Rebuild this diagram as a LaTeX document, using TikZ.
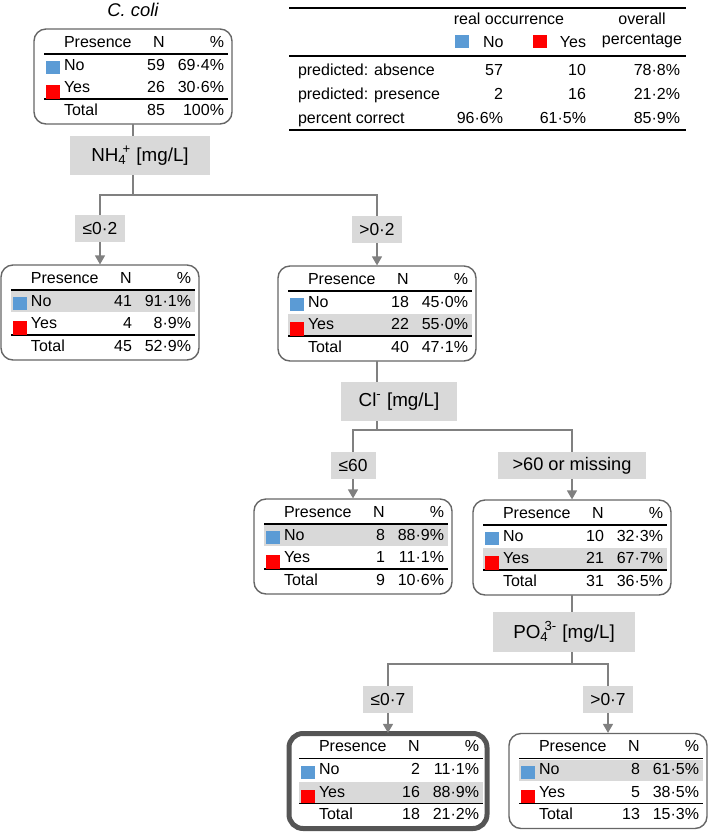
\documentclass[tikz,border=0pt]{standalone}
\usepackage{fontspec}
\setmainfont{Liberation Sans}
\usetikzlibrary{arrows.meta}
\definecolor{cno}{HTML}{5B9BD5}
\definecolor{cyes}{HTML}{FF0000}
\definecolor{lblgray}{HTML}{D9D9D9}
\definecolor{conngray}{HTML}{808080}
\definecolor{boxgray}{HTML}{666666}
\definecolor{thickgray}{HTML}{555555}
\newcommand\ionss[2]{\rlap{\textsubscript{#1}}\hspace{0.22em}\textsuperscript{#2}}
\tikzset{
  tbox/.style={draw=boxgray, line width=0.7pt, rounded corners=6pt, minimum width=99pt, minimum height=47.5pt, inner sep=0pt, outer sep=0pt},
  tboxthick/.style={tbox, draw=thickgray, line width=2.5pt, rounded corners=7pt},
  lbl/.style={fill=lblgray, inner sep=0pt, outer sep=0pt, font=\fontsize{8.7}{10}\selectfont},
  biglbl/.style={lbl, font=\fontsize{9.4}{11}\selectfont},
  conn/.style={draw=conngray, line width=0.7pt},
  arr/.style={conn, -{Triangle[width=5pt,length=4.5pt]}, shorten >=0.3pt},
  tline/.style={line width=0.8pt},
  tt/.style={inner sep=0pt, outer sep=0pt, font=\fontsize{8}{9.6}\selectfont},
}
\newcommand\ptab[8]{%
 \begin{scope}[shift={(#1.north west)}]
  \ifcase#2\or \fill[lblgray] (10,26) rectangle (194,47);\or \fill[lblgray] (10,48) rectangle (194,69.5);\fi
  \draw[tline] (10,25) -- (194,25);
  \draw[tline] (10,70) -- (194,70);
  \fill[cno] (12,32) rectangle (26,45);
  \fill[cyes] (12,56) rectangle (26,69.6);
  \node[tt,anchor=base west] (#1-hp) at (30,18) {Presence};
  \node[tt,anchor=base] (#1-hn) at (125,18) {N};
  \node[tt,anchor=base east] (#1-hq) at (190,18) {\%};
  \node[tt,anchor=base west] (#1-no) at (30,41) {No};
  \node[tt,anchor=base east] (#1-non) at (131,41) {#3};
  \node[tt,anchor=base east] (#1-nop) at (190,41) {#4};
  \node[tt,anchor=base west] (#1-yes) at (30,63.5) {Yes};
  \node[tt,anchor=base east] (#1-yesn) at (131,63.5) {#5};
  \node[tt,anchor=base east] (#1-yesp) at (190,63.5) {#6};
  \node[tt,anchor=base west] (#1-tot) at (30,86) {Total};
  \node[tt,anchor=base east] (#1-totn) at (131,86) {#7};
  \node[tt,anchor=base east] (#1-totp) at (190,86) {#8};
 \end{scope}}
\begin{document}
\begin{tikzpicture}[x=0.5pt,y=-0.5pt]
\useasboundingbox (0,0) rectangle (709,832);
% title
\node[inner sep=0pt, anchor=base, font=\fontsize{9.2}{11}\selectfont\itshape] (title) at (133,16.5) {C. coli};
% tree tables
\node[tbox] (root) at (133,76.5) {};
\node[tbox] (L1) at (100,312.5) {};
\node[tbox] (R1) at (377,313.5) {};
\node[tbox] (L2) at (353,546.5) {};
\node[tbox] (R2) at (572,547.5) {};
\node[tboxthick] (L3) at (388,781) {};
\node[tbox] (R3) at (608,781) {};
\ptab{root}{0}{59}{69·4\%}{26}{30·6\%}{85}{100\%}
\ptab{L1}{1}{41}{91·1\%}{4}{8·9\%}{45}{52·9\%}
\ptab{R1}{2}{18}{45·0\%}{22}{55·0\%}{40}{47·1\%}
\ptab{L2}{1}{8}{88·9\%}{1}{11·1\%}{9}{10·6\%}
\ptab{R2}{2}{10}{32·3\%}{21}{67·7\%}{31}{36·5\%}
\ptab{L3}{2}{2}{11·1\%}{16}{88·9\%}{18}{21·2\%}
\ptab{R3}{1}{8}{61·5\%}{5}{38·5\%}{13}{15·3\%}
% junctions
\coordinate (j1) at (133,195);
\coordinate (j2) at (377,430);
\coordinate (j3) at (572,664);
\draw[conn] (root.south) -- (j1);
\draw[conn] (R1.south) -- (j2);
\draw[conn] (R2.south) -- (j3);
% split labels
\node[biglbl, minimum width=70pt, minimum height=19.5pt] (nh4) at (140,155.5) {NH\ionss{4}{+} [mg/L]};
\node[biglbl, minimum width=58pt, minimum height=19.5pt] (cl) at (399,401.5) {Cl\textsuperscript{-} [mg/L]};
\node[biglbl, minimum width=71pt, minimum height=20pt] (po4) at (564,632) {PO\ionss{4}{3-} [mg/L]};
% branch labels
\node[lbl, minimum width=25pt, minimum height=13.5pt] (le02) at (100,228.5) {≤0·2};
\node[lbl, minimum width=25pt, minimum height=13.5pt] (gt02) at (377,229.5) {>0·2};
\node[lbl, minimum width=22.5pt, minimum height=13.5pt] (le60) at (353,465.5) {≤60};
\node[lbl, minimum width=74pt, minimum height=13.5pt, font=\fontsize{9.1}{10}\selectfont] (gt60) at (572,465.5) {>60 or missing};
\node[lbl, minimum width=25pt, minimum height=13.5pt] (le07) at (388,699.5) {≤0·7};
\node[lbl, minimum width=25pt, minimum height=13.5pt] (gt07) at (608,699.5) {>0·7};
% branches
\draw[conn] (j1) -| (le02.north);
\draw[conn] (j1) -| (gt02.north);
\draw[conn] (j2) -| (le60.north);
\draw[conn] (j2) -| (gt60.north);
\draw[conn] (j3) -| (le07.north);
\draw[conn] (j3) -| (gt07.north);
\draw[arr] (le02.south) -- (L1.north);
\draw[arr] (gt02.south) -- (R1.north);
\draw[arr] (le60.south) -- (L2.north);
\draw[arr] (gt60.south) -- (R2.north);
\draw[arr] (le07.south) -- (L3.north);
\draw[arr] (gt07.south) -- (R3.north);
% classification table
\draw[line width=1pt] (289,8) -- (686,8);
\draw[line width=1pt] (289,56) -- (686,56);
\draw[line width=1pt] (289,130) -- (686,130);
\node[tt,anchor=base] (t-ro) at (509,24) {real occurrence};
\node[tt,anchor=base] (t-ov) at (642,24) {overall};
\node[tt,anchor=base] (t-pc) at (642,44) {percentage};
\fill[cno] (455,35) rectangle (469,48);
\node[tt,anchor=base west] (t-no) at (483,47) {No};
\fill[cyes] (533,35) rectangle (547,48);
\node[tt,anchor=base east] (t-yes) at (586,47) {Yes};
\node[tt,anchor=base west] (t-r1) at (298,75) {predicted: absence};
\node[tt,anchor=base east] (t-r1a) at (503,75) {57};
\node[tt,anchor=base east] (t-r1b) at (586,75) {10};
\node[tt,anchor=base east] (t-r1c) at (680,75) {78·8\%};
\node[tt,anchor=base west] (t-r2) at (298,99) {predicted: presence};
\node[tt,anchor=base east] (t-r2a) at (503,99) {2};
\node[tt,anchor=base east] (t-r2b) at (586,99) {16};
\node[tt,anchor=base east] (t-r2c) at (680,99) {21·2\%};
\node[tt,anchor=base west] (t-r3) at (298,123) {percent correct};
\node[tt,anchor=base east] (t-r3a) at (503,123) {96·6\%};
\node[tt,anchor=base east] (t-r3b) at (586,123) {61·5\%};
\node[tt,anchor=base east] (t-r3c) at (680,123) {85·9\%};
\end{tikzpicture}
\end{document}
